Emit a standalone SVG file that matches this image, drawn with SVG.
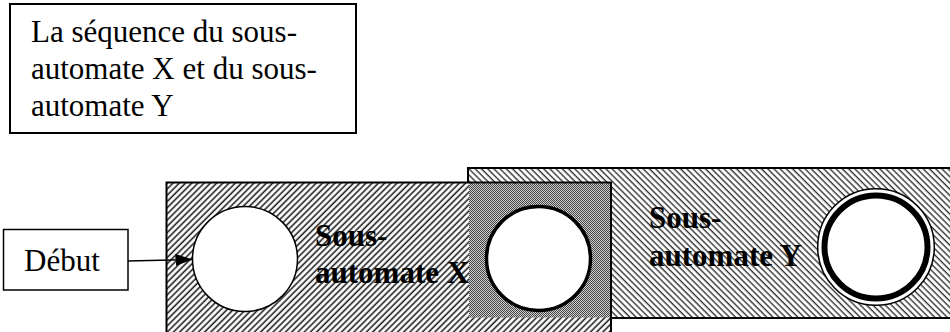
<svg xmlns="http://www.w3.org/2000/svg" width="950" height="332" viewBox="0 0 950 332">
<style>
.reg{font-family:"Liberation Serif","Times New Roman",serif;font-size:31px;fill:#000}
.bold{font-family:"Liberation Serif","Times New Roman",serif;font-size:31px;font-weight:bold;fill:#000}
.box{fill:#fff;stroke:#000}
.circ{fill:#fff;stroke:#000}
</style>
<defs>
<pattern id="hatchX" patternUnits="userSpaceOnUse" width="4.4" height="10" patternTransform="rotate(45)">
<rect width="4.4" height="10" fill="#fff"/>
<line x1="1.1" y1="0" x2="1.1" y2="10" stroke="#222" stroke-width="1.6"/>
</pattern>
<pattern id="hatchY" patternUnits="userSpaceOnUse" width="4.4" height="10" patternTransform="rotate(-45)">
<rect width="4.4" height="10" fill="#fff"/>
<line x1="1.1" y1="0" x2="1.1" y2="10" stroke="#333" stroke-width="1.4"/>
</pattern>
<pattern id="checker" patternUnits="userSpaceOnUse" width="2" height="2">
<rect width="2" height="2" fill="#d0d0d0"/>
<rect width="1" height="1" fill="#444"/>
<rect x="1" y="1" width="1" height="1" fill="#444"/>
</pattern>
<marker id="arrow" markerUnits="userSpaceOnUse" markerWidth="17" markerHeight="12" refX="17" refY="6" orient="auto">
<path d="M0,0 L17,6 L0,12 Z" fill="#000"/>
</marker>
</defs>

<g id="title">
<rect class="box" x="10" y="4" width="346" height="129" stroke-width="2"/>
<text class="reg" x="31" y="42">La séquence du sous-</text>
<text class="reg" x="31" y="79">automate X et du sous-</text>
<text class="reg" x="31" y="116">automate Y</text>
</g>

<g id="sousautomateY">
<rect x="468" y="168" width="490" height="150" fill="url(#hatchY)" stroke="#000" stroke-width="2"/>
</g>

<g id="sousautomateX">
<rect x="166.5" y="182.5" width="444.5" height="160" fill="url(#hatchX)"/>
<rect x="469" y="183.5" width="141" height="134" fill="url(#checker)"/>
<rect x="166.5" y="182.5" width="444.5" height="160" fill="none" stroke="#000" stroke-width="2"/>
</g>

<g id="debut">
<rect class="box" x="3.5" y="229.5" width="124.5" height="60.5" stroke-width="1.5"/>
<text class="reg" x="62" y="271" text-anchor="middle">Début</text>
</g>

<g id="connectors">
<line x1="128" y1="261" x2="192.5" y2="259.5" stroke="#000" stroke-width="1.5" marker-end="url(#arrow)"/>
</g>

<g id="etatInitialX">
<circle class="circ" cx="245" cy="259" r="52.5" stroke-width="1.5"/>
</g>

<g id="labelX">
<text class="bold" x="315" y="246">Sous-</text>
<text class="bold" x="315" y="283">automate X</text>
</g>

<g id="etatJonction">
<circle class="circ" cx="538.5" cy="258.5" r="52" stroke-width="3.5"/>
</g>

<g id="labelY">
<text class="bold" x="649" y="228">Sous-</text>
<text class="bold" x="649" y="266">automate Y</text>
</g>

<g id="etatFinalY">
<circle class="circ" cx="876" cy="247" r="58.3" stroke-width="1.5"/>
<circle class="circ" cx="876" cy="247" r="51.5" stroke-width="6"/>
</g>
</svg>
